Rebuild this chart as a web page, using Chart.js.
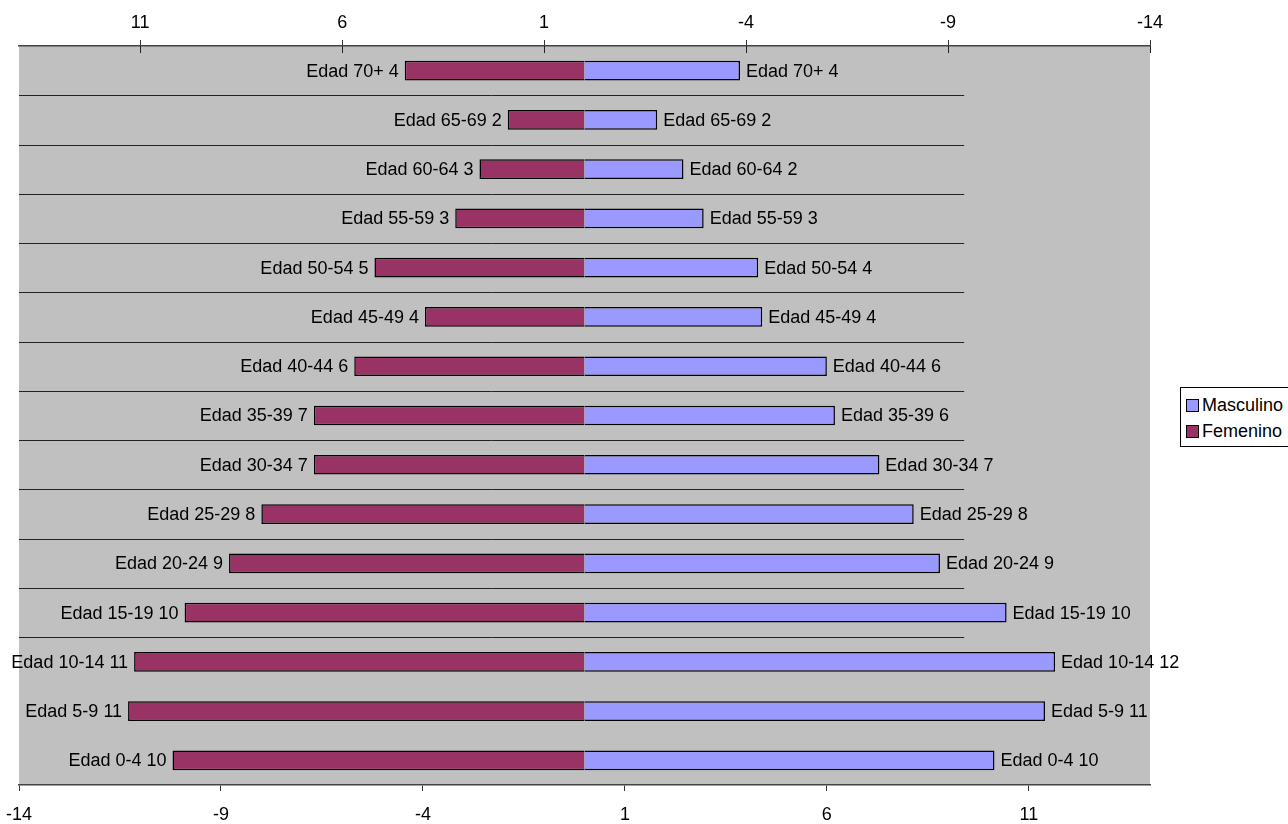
<!DOCTYPE html>
<html lang="es">
<head>
  <meta charset="UTF-8">
  <title>Pirámide de población</title>
  <script src="https://cdn.jsdelivr.net/npm/chart.js"></script>
  <style>
    body { margin: 0; background: #fff; font-family: "Liberation Sans", Arial, sans-serif; }
    #wrap { position: relative; width: 1288px; height: 824px; overflow: hidden; }
    #legend { position: absolute; left: 1180px; top: 387px; width: 120px; border: 1px solid #000;
              background: #fff; padding: 4px 0 2px 5px; font-size: 18px; }
    #legend div { height: 26px; line-height: 26px; white-space: nowrap; }
    #legend span { display: inline-block; width: 11px; height: 11px; border: 1px solid #000;
                   margin-right: 3px; vertical-align: -1px; }
  </style>
</head>
<body>
  <div id="wrap">
    <canvas id="pyramid" width="1288" height="824"></canvas>
    <div id="legend"></div>
  </div>

  <script>
    // age groups, bottom to top
    const ageGroups = ['0-4', '5-9', '10-14', '15-19', '20-24', '25-29', '30-34', '35-39',
                       '40-44', '45-49', '50-54', '55-59', '60-64', '65-69', '70+'];
    const masculino = [10.15, 11.4, 11.65, 10.45, 8.8, 8.15, 7.3, 6.2, 6.0, 4.4, 4.3, 2.95, 2.45, 1.8, 3.85];
    const femenino  = [10.2, 11.3, 11.15, 9.9, 8.8, 8.0, 6.7, 6.7, 5.7, 3.95, 5.2, 3.2, 2.6, 1.9, 4.45];
    const tickValues = [-14, -9, -4, 1, 6, 11];

    const FONT = '"Liberation Sans", Arial, sans-serif';
    const gridEnd = 9.4;      // the row lines stop short of the right side
    const gridRows = 12;      // only the upper row separators are drawn

    const fixTicks = scale => { scale.ticks = tickValues.map(v => ({ value: v })); };

    const plotBackground = {
      id: 'plotBackground',
      beforeDraw(chart) {
        const { ctx, chartArea: a } = chart;
        ctx.save();
        ctx.fillStyle = '#c0c0c0';
        ctx.fillRect(a.left, a.top, a.right - a.left, a.bottom - a.top);
        // row separators
        const y = chart.scales.y, x = chart.scales.x;
        ctx.strokeStyle = '#222';
        ctx.lineWidth = 1;
        const n = ageGroups.length;
        for (let k = n - 1; k > n - 1 - gridRows; k--) {
          const py = Math.round((y.getPixelForValue(k) + y.getPixelForValue(k - 1)) / 2) + 0.5;
          ctx.beginPath();
          ctx.moveTo(a.left, py);
          ctx.lineTo(x.getPixelForValue(gridEnd), py);
          ctx.stroke();
        }
        ctx.restore();
      },
      afterDraw(chart) {
        // top axis tick marks cross the axis line
        const { ctx, chartArea: a } = chart;
        const top = chart.scales.x2;
        ctx.save();
        ctx.strokeStyle = '#222';
        ctx.lineWidth = 1;
        tickValues.forEach(v => {
          const px = Math.round(top.getPixelForValue(v)) + 0.5;
          ctx.beginPath();
          ctx.moveTo(px, a.top);
          ctx.lineTo(px, a.top + 7);
          ctx.stroke();
        });
        ctx.restore();
      }
    };

    const barLabels = {
      id: 'barLabels',
      afterDatasetsDraw(chart) {
        const { ctx } = chart;
        ctx.save();
        ctx.font = '18px ' + FONT;
        ctx.fillStyle = '#000';
        ctx.textBaseline = 'middle';
        chart.data.datasets.forEach((ds, i) => {
          const meta = chart.getDatasetMeta(i);
          meta.data.forEach((bar, j) => {
            const txt = 'Edad ' + ageGroups[j] + ' ' + Math.round(ds.data[j]);
            if (ds.side === 'left') {
              ctx.textAlign = 'right';
              ctx.fillText(txt, bar.x - 6, bar.y + 1);
            } else {
              ctx.textAlign = 'left';
              ctx.fillText(txt, bar.x + 6, bar.y + 1);
            }
          });
        });
        ctx.restore();
      }
    };

    const axisStyle = {
      min: -14,
      max: 14,
      afterBuildTicks: fixTicks,
      grid: { drawOnChartArea: false, drawTicks: true, tickLength: 6, color: '#333' },
      border: { color: '#444', width: 1.5 },
      ticks: { color: '#000', font: { family: FONT, size: 18 }, maxRotation: 0, autoSkip: false }
    };

    const datasets = [
      { label: 'Masculino', data: masculino, xAxisID: 'x', side: 'right',
        backgroundColor: '#9999ff', borderColor: '#000', borderWidth: 1.5 },
      { label: 'Femenino', data: femenino, xAxisID: 'x2', side: 'left',
        backgroundColor: '#993366', borderColor: '#000', borderWidth: 1.5 }
    ];

    new Chart(document.getElementById('pyramid'), {
      type: 'bar',
      data: { labels: ageGroups, datasets: datasets },
      options: {
        indexAxis: 'y',
        responsive: false,
        animation: false,
        devicePixelRatio: 1,
        datasets: { bar: { grouped: false, categoryPercentage: 1, barPercentage: 0.4 } },
        layout: { padding: { left: 19, right: 138, top: 0, bottom: 0 } },
        plugins: { legend: { display: false }, tooltip: { enabled: false } },
        scales: {
          x: Object.assign({}, axisStyle, {
            position: 'bottom',
            ticks: Object.assign({}, axisStyle.ticks, { padding: 13 }),
            afterFit: s => { s.height = 39; s.paddingLeft = 0; s.paddingRight = 0; }
          }),
          x2: Object.assign({}, axisStyle, {
            position: 'top',
            reverse: true,
            ticks: Object.assign({}, axisStyle.ticks, { padding: 6 }),
            afterFit: s => { s.height = 46; s.paddingLeft = 0; s.paddingRight = 0; }
          }),
          y: { type: 'category', reverse: true, display: false, offset: true }
        }
      },
      plugins: [plotBackground, barLabels]
    });

    // legend
    const legend = document.getElementById('legend');
    datasets.forEach(ds => {
      const row = document.createElement('div');
      const sw = document.createElement('span');
      sw.style.background = ds.backgroundColor;
      row.appendChild(sw);
      row.appendChild(document.createTextNode(ds.label));
      legend.appendChild(row);
    });
  </script>
</body>
</html>
